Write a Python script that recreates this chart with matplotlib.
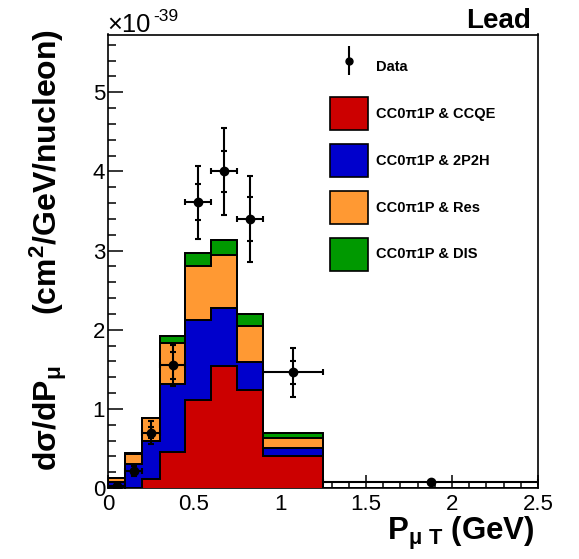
import numpy as np
import matplotlib
matplotlib.use("Agg")
import matplotlib.pyplot as plt
from matplotlib.patches import Patch
from matplotlib.legend_handler import HandlerErrorbar

plt.rcParams['font.family'] = ['Liberation Sans', 'DejaVu Sans']
plt.rcParams['mathtext.fontset'] = 'custom'
plt.rcParams['mathtext.rm'] = 'Liberation Sans:bold'
plt.rcParams['mathtext.it'] = 'Liberation Sans:bold'
plt.rcParams['mathtext.bf'] = 'Liberation Sans:bold'
plt.rcParams['mathtext.default'] = 'rm'

# bin edges in P_muT (GeV)
edges = np.array([0, 0.1, 0.2, 0.3, 0.45, 0.6, 0.75, 0.9, 1.25, 2.5])

# MC components (units of 1e-39 cm2/GeV/nucleon), stacked in this order
ccqe = [0.0, 0.0, 0.11, 0.45, 1.11, 1.545, 1.24, 0.41, 0.0]
twop2h = [0.076, 0.30, 0.49, 0.87, 1.01, 0.735, 0.355, 0.09, 0.0]
res = [0.05, 0.13, 0.28, 0.51, 0.69, 0.67, 0.455, 0.13, 0.0]
dis = [0.0, 0.01, 0.01, 0.094, 0.16, 0.18, 0.15, 0.07, 0.0]

labels = ['CC0π1P & CCQE', 'CC0π1P & 2P2H', 'CC0π1P & Res', 'CC0π1P & DIS']
colors = ['#cc0000', '#0000cc', '#ff9933', '#009900']

# data points
data_x = [0.05, 0.15, 0.25, 0.375, 0.525, 0.675, 0.825, 1.075, 1.875]
data_y = [0.025, 0.21, 0.70, 1.55, 3.61, 4.00, 3.40, 1.46, 0.076]
err_tot = [0.02, 0.063, 0.15, 0.26, 0.46, 0.55, 0.54, 0.31, 0.01]
err_stat = [0.01, 0.03, 0.07, 0.17, 0.23, 0.26, 0.28, 0.15, 0.005]

fig = plt.figure(figsize=(5.79, 5.59), dpi=100)
ax = fig.add_axes([108/579, 1 - 488/559, 430/579, 453.5/559])

# stacked histogram, drawn from the full sum down
comps = [ccqe, twop2h, res, dis]
cum = np.cumsum(np.array(comps), axis=0)
for i in range(3, -1, -1):
    ax.stairs(cum[i], edges, baseline=0, fill=True, facecolor=colors[i],
              edgecolor='black', linewidth=1.3, zorder=2 + (3 - i))
    ax.stairs(cum[i], edges, baseline=0, fill=False, color='black',
              linewidth=1.3, zorder=2 + (3 - i))

xerr = np.diff(edges) / 2
ax.errorbar(data_x, data_y, xerr=xerr, yerr=err_tot, fmt='o', color='black',
            ms=6, elinewidth=1.5, capsize=2.5, capthick=1.5, zorder=10)
ax.errorbar(data_x, data_y, yerr=err_stat, fmt='none', ecolor='black',
            elinewidth=0, capsize=2.5, capthick=1.5, zorder=10)

ax.set_xlim(0, 2.5)
ax.set_ylim(0, 5.73)
ax.set_xticks([0, 0.5, 1, 1.5, 2, 2.5])
ax.set_xticklabels(['0', '0.5', '1', '1.5', '2', '2.5'])
ax.set_xticks(np.arange(0, 2.51, 0.1), minor=True)
ax.set_yticks([0, 1, 2, 3, 4, 5])
ax.set_yticks(np.arange(0, 5.73, 0.2), minor=True)
ax.tick_params(which='both', direction='in', top=False, right=False, width=1.1,
               labelsize=16)
ax.tick_params(axis='x', which='major', length=9.5, pad=4)
ax.tick_params(axis='x', which='minor', length=4.7)
ax.tick_params(axis='y', which='major', length=10.8, pad=2)
ax.tick_params(axis='y', which='minor', length=5.4)
for s in ax.spines.values():
    s.set_linewidth(1.2)

# legend
data_handle = ax.errorbar([], [], yerr=[], fmt='o', color='black', ms=5,
                          elinewidth=1.5, capsize=0)
handles = [data_handle]
handles += [Patch(facecolor=c, edgecolor='black', linewidth=1.2) for c in colors]
leg = fig.legend(handles, ['Data'] + labels, loc='upper left',
                 bbox_to_anchor=(330/579, 1 - 50.5/559), frameon=False,
                 prop={'weight': 'bold', 'size': 10.5}, handlelength=2.6,
                 handleheight=3.1, labelspacing=0.95, handletextpad=0.55,
                 borderpad=0, borderaxespad=0,
                 handler_map={data_handle: HandlerErrorbar(yerr_size=1.0)})

fig.text(531/579, 1 - 28/559, 'Lead', ha='right', va='baseline',
         fontsize=20, fontweight='bold')
fig.text(107/579, 1 - 31.7/559, '×10', ha='left', va='baseline', fontsize=18.4)
fig.text(153/579, 1 - 20.7/559, '-39', ha='left', va='baseline', fontsize=12.5)

fig.text(535/579, 1 - 540/559, r'P$_{\mu\ T}$ (GeV)', ha='right', va='baseline',
         fontsize=22.5, fontweight='bold')
fig.text(57/579, 1 - 29/559, r'(cm$^{2}$/GeV/nucleon)', rotation=90,
         rotation_mode='anchor', ha='right', va='baseline', fontsize=23,
         fontweight='bold')
fig.text(57/579, 1 - 471/559, r'd$\sigma$/dP$_{\mu}$', rotation=90,
         rotation_mode='anchor', ha='left', va='baseline', fontsize=23,
         fontweight='bold')

fig.savefig('out.png', dpi=100)
